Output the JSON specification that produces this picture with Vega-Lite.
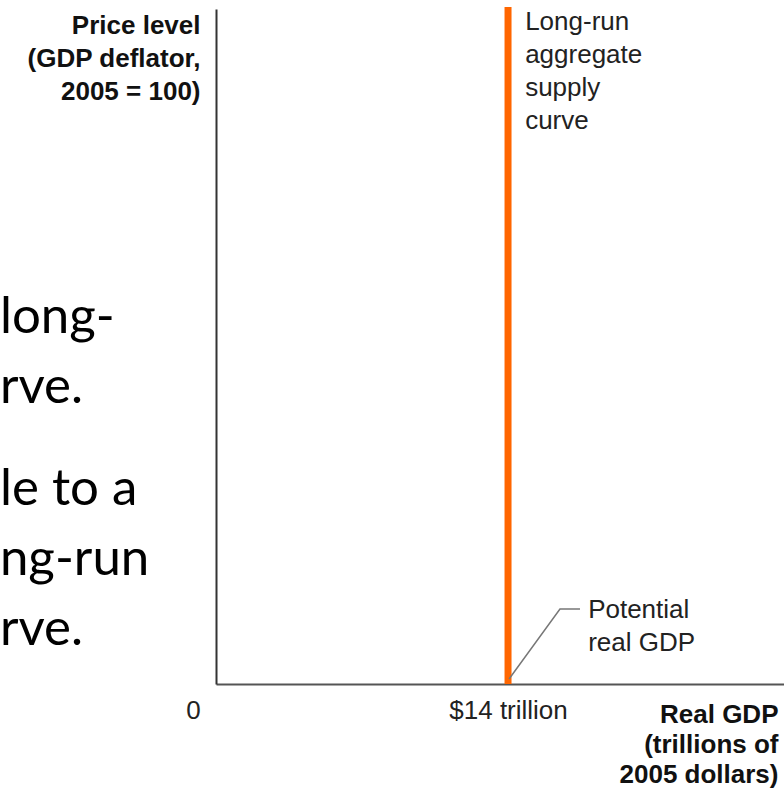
{
  "$schema": "https://vega.github.io/schema/vega-lite/v6.json",
  "width": 568,
  "height": 675,
  "autosize": {"type": "none"},
  "padding": {"left": 216, "top": 9, "right": 0, "bottom": 108},
  "background": "white",
  "config": {"view": {"stroke": null}},
  "datasets": {
    "lras": [{"gdp": 14, "price_low": 0, "price_high": 200.6}],
    "leader": [
      {"gdp": 14.05, "price": 1.5, "step": 1},
      {"gdp": 16.49, "price": 22.2, "step": 2},
      {"gdp": 17.45, "price": 22.2, "step": 3}
    ],
    "notes": [
      {"gdp": 14.82, "price": 193.8, "label": "Long-run\naggregate\nsupply\ncurve"},
      {"gdp": 17.84, "price": 19.6, "label": "Potential\nreal GDP"}
    ],
    "slide": [
      {"gdp": -10.36, "price": 104.0, "label": "long-\nrve."},
      {"gdp": -10.36, "price": 53.0, "label": "le to a\nng-run\nrve."}
    ]
  },
  "layer": [
    {
      "data": {"name": "lras"},
      "mark": {"type": "rule", "color": "#ff6600", "strokeWidth": 7},
      "encoding": {
        "x": {
          "field": "gdp",
          "type": "quantitative",
          "scale": {"domain": [0, 27.23], "nice": false, "zero": false},
          "axis": {
            "values": [0, 14],
            "labelExpr": "datum.value == 0 ? '0' : '$14 trillion'",
            "ticks": false,
            "tickSize": 0,
            "grid": false,
            "domainColor": "#555",
            "domainWidth": 2,
            "labelFont": "Liberation Sans",
            "labelFontSize": 26,
            "labelColor": "#222",
            "labelBaseline": "alphabetic",
            "labelPadding": 34,
            "labelOffset": {"condition": {"test": "datum.value == 0", "value": -23}, "value": 0},
            "labelOverlap": false,
            "labelFlush": false,
            "labelBound": false,
            "title": ["Real GDP", "(trillions of", "2005 dollars)"],
            "titleFont": "Liberation Sans",
            "titleFontSize": 26,
            "titleFontWeight": "bold",
            "titleColor": "#111",
            "titleAlign": "right",
            "titleAnchor": "end",
            "titleBaseline": "alphabetic",
            "titleX": 562,
            "titleY": 38,
            "titleLineHeight": 30
          }
        },
        "y": {
          "field": "price_low",
          "type": "quantitative",
          "scale": {"domain": [0, 200], "nice": false, "zero": false},
          "axis": {
            "ticks": false,
            "labels": false,
            "grid": false,
            "domainColor": "#333",
            "domainWidth": 2,
            "title": ["Price level", "(GDP deflator,", "2005 = 100)"],
            "titleFont": "Liberation Sans",
            "titleFontSize": 26,
            "titleFontWeight": "bold",
            "titleColor": "#111",
            "titleAngle": 0,
            "titleAlign": "right",
            "titleBaseline": "alphabetic",
            "titleX": -16,
            "titleY": 24,
            "titleLineHeight": 33
          }
        },
        "y2": {"field": "price_high"}
      }
    },
    {
      "data": {"name": "leader"},
      "mark": {"type": "line", "color": "#777", "strokeWidth": 1.5},
      "encoding": {
        "x": {"field": "gdp", "type": "quantitative"},
        "y": {"field": "price", "type": "quantitative"},
        "order": {"field": "step"}
      }
    },
    {
      "data": {"name": "notes"},
      "mark": {
        "type": "text",
        "align": "left",
        "baseline": "alphabetic",
        "font": "Liberation Sans",
        "fontSize": 26,
        "color": "#222",
        "lineBreak": "\n",
        "lineHeight": 33
      },
      "encoding": {
        "x": {"field": "gdp", "type": "quantitative"},
        "y": {"field": "price", "type": "quantitative"},
        "text": {"field": "label"}
      }
    },
    {
      "data": {"name": "slide"},
      "mark": {
        "type": "text",
        "align": "left",
        "baseline": "alphabetic",
        "font": "Lato",
        "fontSize": 51,
        "color": "#000",
        "lineBreak": "\n",
        "lineHeight": 70
      },
      "encoding": {
        "x": {"field": "gdp", "type": "quantitative"},
        "y": {"field": "price", "type": "quantitative"},
        "text": {"field": "label"}
      }
    }
  ]
}
